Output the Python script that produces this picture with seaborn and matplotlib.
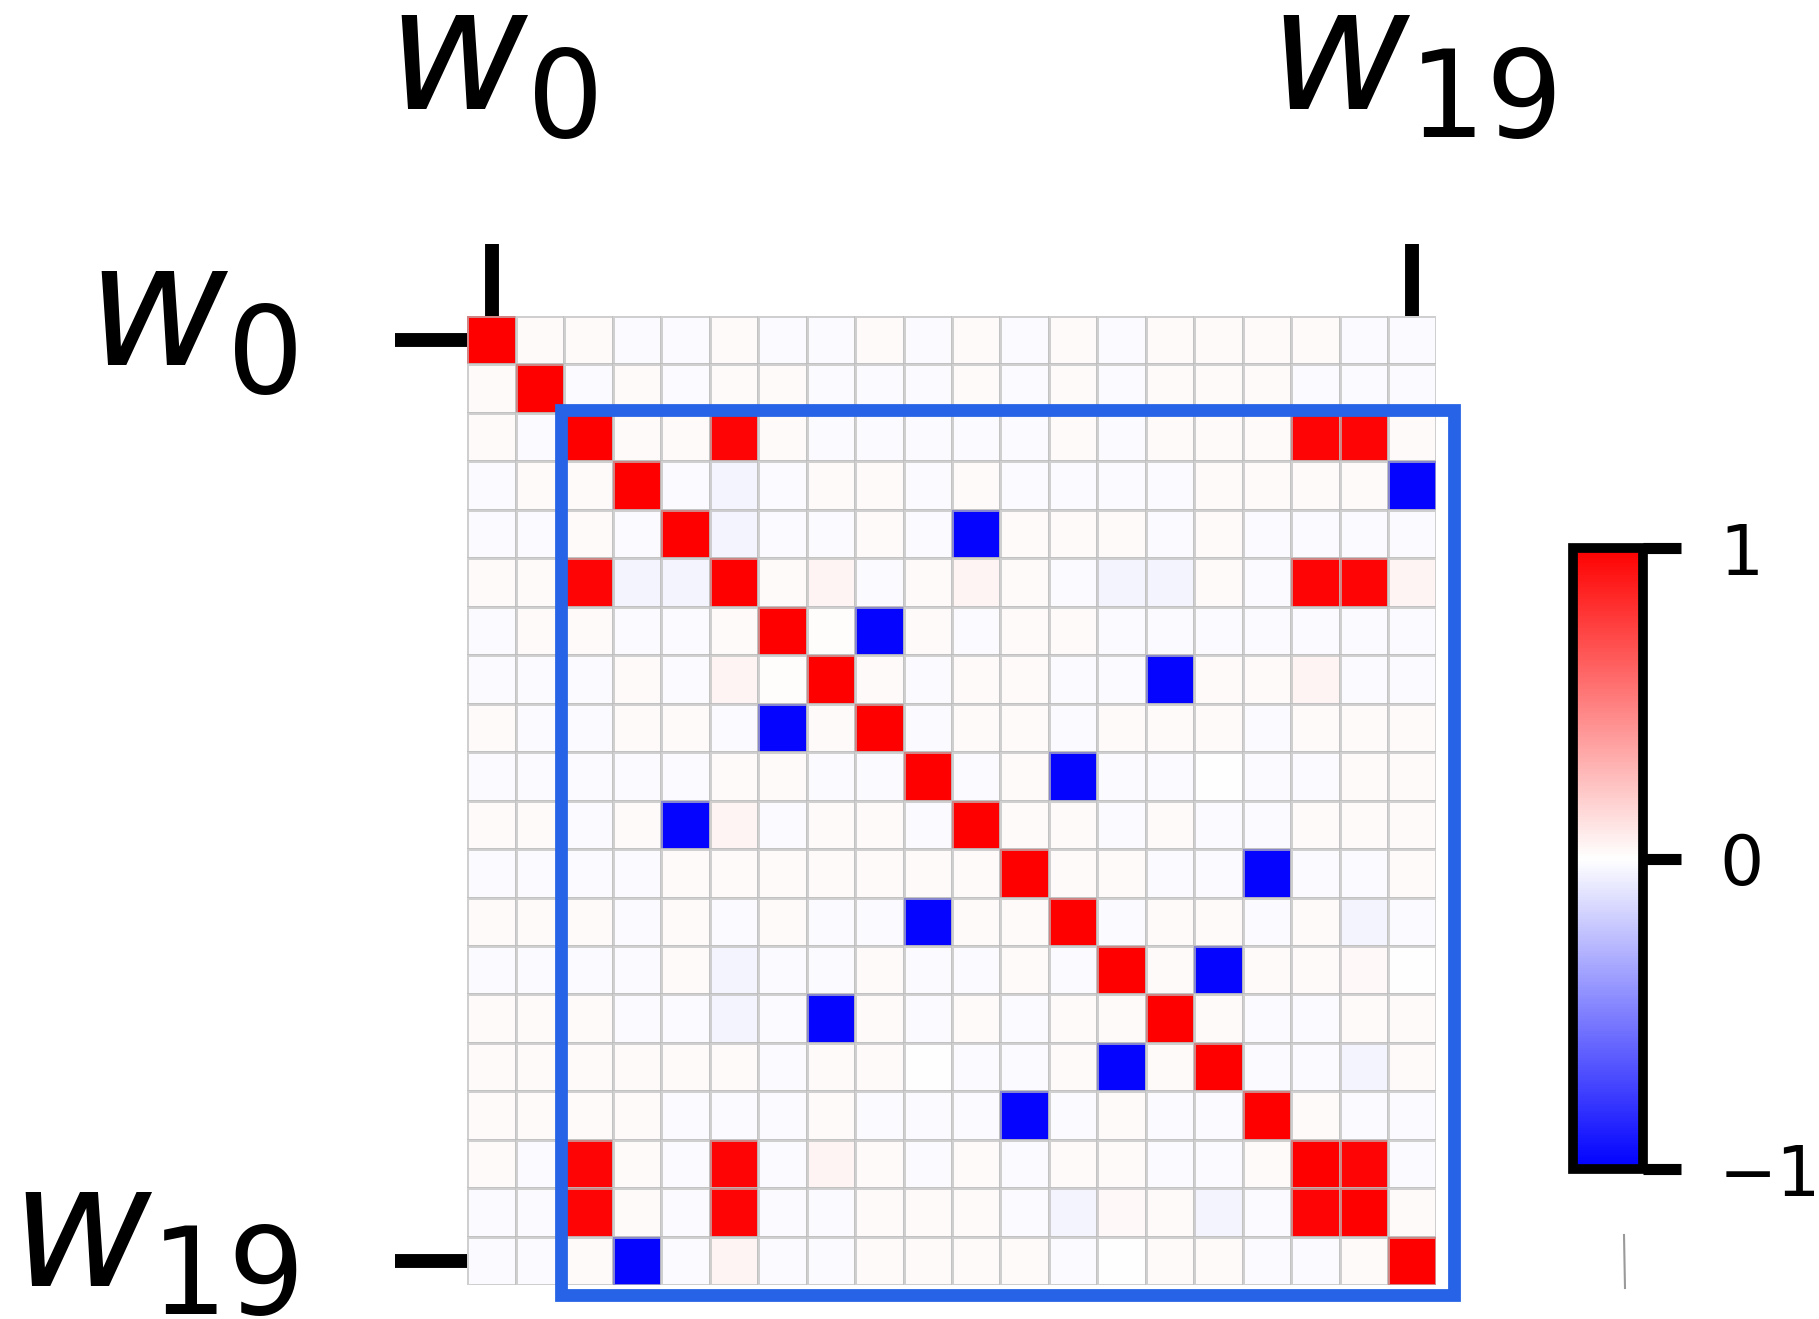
import numpy as np
import pandas as pd
import matplotlib
matplotlib.use("Agg")
import matplotlib.pyplot as plt
import matplotlib.patches as patches
import matplotlib.transforms as mtransforms
from matplotlib.lines import Line2D
import seaborn as sns

# Correlation matrix of the weights w_0 ... w_19
row_00 = [1.00, .02, .02, -.02, -.02, .02, -.02, -.02, .02, -.02, .02, -.02, .02, -.02, .02, .02, .02, .02, -.02, -.02]
row_01 = [.02, 1.00, -.02, .02, -.02, .02, .02, -.02, -.02, -.02, .02, -.02, .02, -.02, .02, .02, .02, -.02, -.02, -.02]
row_02 = [.02, -.02, 1.00, .02, .02, .98, .02, -.02, -.02, -.02, -.02, -.02, .02, -.02, .02, .02, .02, .98, .98, .02]
row_03 = [-.02, .02, .02, 1.00, -.02, -.04, -.02, .02, .02, -.02, .02, -.02, -.02, -.02, -.02, .02, .02, .02, .02, -.98]
row_04 = [-.02, -.02, .02, -.02, 1.00, -.04, -.02, -.02, .02, -.02, -.98, .02, .02, .02, -.02, .02, -.02, -.02, -.02, -.02]
row_05 = [.02, .02, .98, -.04, -.04, 1.00, .02, .04, -.02, .02, .04, .02, -.02, -.04, -.04, .02, -.02, .98, .98, .04]
row_06 = [-.02, .02, .02, -.02, -.02, .02, 1.00, .01, -.98, .02, -.02, .02, .02, -.02, -.02, -.02, -.02, -.02, -.02, -.02]
row_07 = [-.02, -.02, -.02, .02, -.02, .04, .01, 1.00, .02, -.02, .02, .02, -.02, -.02, -.98, .02, .02, .04, -.02, -.02]
row_08 = [.02, -.02, -.02, .02, .02, -.02, -.98, .02, 1.00, -.02, .02, .02, -.02, .02, .02, .02, -.02, .02, .02, .02]
row_09 = [-.02, -.02, -.02, -.02, -.02, .02, .02, -.02, -.02, 1.00, -.02, .02, -.98, -.02, -.02, .00, -.02, -.02, .02, .02]
row_10 = [.02, .02, -.02, .02, -.98, .04, -.02, .02, .02, -.02, 1.00, .02, .02, -.02, .02, -.02, -.02, .02, .02, .02]
row_11 = [-.02, -.02, -.02, -.02, .02, .02, .02, .02, .02, .02, .02, 1.00, .02, .02, -.02, -.02, -.98, -.02, -.02, .02]
row_12 = [.02, .02, .02, -.02, .02, -.02, .02, -.02, -.02, -.98, .02, .02, 1.00, -.02, .02, .02, -.02, .02, -.04, -.02]
row_13 = [-.02, -.02, -.02, -.02, .02, -.04, -.02, -.02, .02, -.02, -.02, .02, -.02, 1.00, .02, -.98, .02, .02, .03, .00]
row_14 = [.02, .02, .02, -.02, -.02, -.04, -.02, -.98, .02, -.02, .02, -.02, .02, .02, 1.00, .02, -.02, -.02, .02, .02]
row_15 = [.02, .02, .02, .02, .02, .02, -.02, .02, .02, .00, -.02, -.02, .02, -.98, .02, 1.00, -.02, -.02, -.04, .02]
row_16 = [.02, .02, .02, .02, -.02, -.02, -.02, .02, -.02, -.02, -.02, -.98, -.02, .02, -.02, -.02, 1.00, .02, -.02, -.02]
row_17 = [.02, -.02, .98, .02, -.02, .98, -.02, .04, .02, -.02, .02, -.02, .02, .02, -.02, -.02, .02, 1.00, .98, -.02]
row_18 = [-.02, -.02, .98, .02, -.02, .98, -.02, -.02, .02, .02, .02, -.02, -.04, .03, .02, -.04, -.02, .98, 1.00, .02]
row_19 = [-.02, -.02, .02, -.98, -.02, .04, -.02, -.02, .02, .02, .02, .02, -.02, .00, .02, .02, -.02, -.02, .02, 1.00]

rows = [row_00, row_01, row_02, row_03, row_04, row_05, row_06, row_07, row_08, row_09,
        row_10, row_11, row_12, row_13, row_14, row_15, row_16, row_17, row_18, row_19]

weight_names = [f"w{i}" for i in range(20)]
tick_positions = [0, 19]
tick_labels = [r"$w_0$", r"$w_{19}$"]
cbar_ticks = [-1, 0, 1]

corr = pd.DataFrame(rows, index=weight_names, columns=weight_names)

fig = plt.figure(figsize=(18.19, 13.19), dpi=100)
ax = fig.add_axes([0.2570, 0.0254, 0.5327, 0.7354])
cax = fig.add_axes([0.8645, 0.1135, 0.0385, 0.4710])

sns.heatmap(
    corr, ax=ax, cbar_ax=cax, cmap="bwr", vmin=-1, vmax=1,
    linewidths=2, linecolor=(0.74, 0.74, 0.74, 0.7),
    xticklabels=False, yticklabels=False,
    cbar_kws={"ticks": cbar_ticks},
)

# Axis ticks: only the first and last weight are labelled
ax.xaxis.tick_top()
ax.set_xticks([p + 0.5 for p in tick_positions])
ax.set_xticklabels(tick_labels, rotation=0)
ax.set_yticks([p + 0.5 for p in tick_positions])
ax.set_yticklabels(tick_labels, rotation=0, va="center")
ax.tick_params(axis="both", length=52, width=10, pad=70, labelsize=124, color="black")
ax.set_xlabel("")
ax.set_ylabel("")

# Nudge the row labels up so the glyphs sit centred on their ticks
lift = mtransforms.ScaledTranslation(0, 0.21, fig.dpi_scale_trans)
for lbl in ax.get_yticklabels():
    lbl.set_transform(lbl.get_transform() + lift)

# Highlighted block
rect = patches.Rectangle((1.94, 1.95), 18.43, 18.25, fill=False,
                         edgecolor="#2663E6", linewidth=9.2, clip_on=False, zorder=10)
ax.add_patch(rect)

# Colorbar styling
cbar = ax.collections[0].colorbar
cbar.outline.set_linewidth(7)
cbar.outline.set_edgecolor("black")
cax.tick_params(length=27, width=8, labelsize=50, pad=28)

# Small mark under the colorbar
fig.add_artist(Line2D([1624 / 1819, 1625 / 1819], [1 - 1235 / 1319, 1 - 1288 / 1319],
                      transform=fig.transFigure, color="#9a9a9a", linewidth=1.5))

fig.savefig("out.png", dpi=100)
